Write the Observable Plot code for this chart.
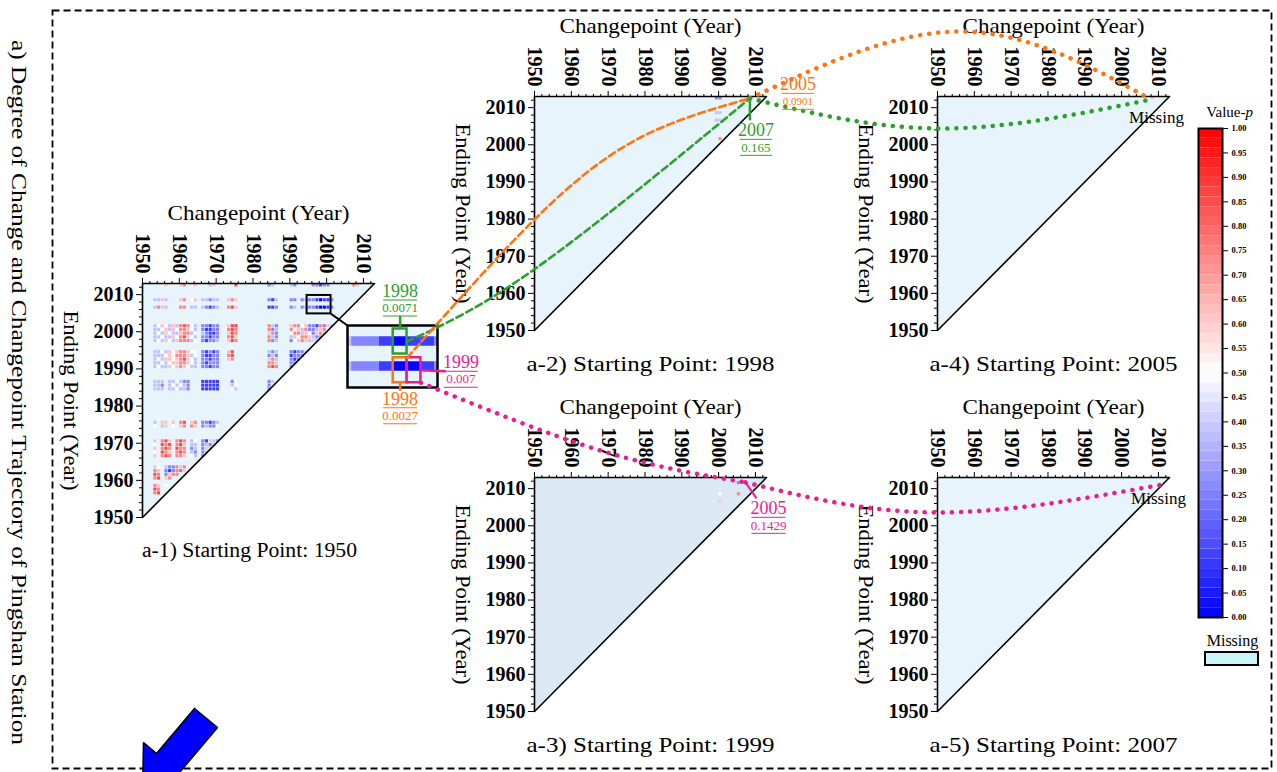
<!DOCTYPE html>
<html><head><meta charset="utf-8">
<script src="https://cdn.jsdelivr.net/npm/d3@7"></script>
<script src="https://cdn.jsdelivr.net/npm/@observablehq/plot@0.6"></script>
<style>
html,body{margin:0;padding:0;background:#fff;}
#wrap{position:relative;width:1277px;height:772px;overflow:hidden;background:#fff;}
</style></head><body><div id="wrap"></div>
<script>
// ---------------- DATA ----------------
const TITLE = "a) Degree of Change and Changepoint Trajectory of Pingshan Station";
const X_TITLE = "Changepoint (Year)";
const Y_TITLE = "Ending Point (Year)";
const STARTS = [1950, 1998, 1999, 2005, 2007];
const CAPTIONS = ["a-1) Starting Point: 1950", "a-2) Starting Point: 1998", "a-3) Starting Point: 1999", "a-4) Starting Point: 2005", "a-5) Starting Point: 2007"];
const YEAR_DOMAIN = [1950, 2013];
const YEAR_TICKS = [1950, 1960, 1970, 1980, 1990, 2000, 2010];
const MINOR_TICKS = [1952, 1954, 1956, 1958, 1962, 1964, 1966, 1968, 1972, 1974, 1976, 1978, 1982, 1984, 1986, 1988, 1992, 1994, 1996, 1998, 2002, 2004, 2006, 2008, 2012];
const CB_TICKS = [0, 0.05, 0.1, 0.15, 0.2, 0.25, 0.3, 0.35, 0.4, 0.45, 0.5, 0.55, 0.6, 0.65, 0.7, 0.75, 0.8, 0.85, 0.9, 0.95, 1];
const CB_TITLE = ["Value-", "p"];
const MISSING_LABEL = "Missing";
// p-value levels used to encode the cells
const P_LEVELS = {X: 0.006, B: 0.12, b: 0.26, l: 0.38, w: 0.5, p: 0.62, r: 0.74, R: 0.86};
// rows: ending year, first changepoint year, one code per changepoint year ('.' = missing)
const A1_ROWS = [
  {end: 2012, from: 1953, codes: "...p...pr..p...lp.....R........bl....lb....bbBbb......rp"},
  {end: 2008, from: 1953, codes: "llpl...pr.wp.llbll..prp........bBl...bb.blbbBXBBb"},
  {end: 2006, from: 1953, codes: "lrpl...rr.ll.lbBbl..rRp........BBb...bl.blbbBXXBb"},
  {end: 2001, from: 1953, codes: "lwpwlplrRrwl.bbBbb..pRR........rlb...prrwpbbBrbpl"},
  {end: 2000, from: 1953, codes: "llwplpwrrpwl.bBBbb..rRr........rbl...rwplrbblprw"},
  {end: 1999, from: 1953, codes: "lwlpwllprrlw.lbBBb..pRr........prb...wrrlpwbprl"},
  {end: 1998, from: 1953, codes: "llwllpwrRpwl.bbBbb..rRp........rlb...lpwrrplbr"},
  {end: 1997, from: 1953, codes: "lwlpwlprrrlw.bBbbl..pRr........rbl...bwprplpl"},
  {end: 1994, from: 1953, codes: "llwlpwprrpww.bBbBb..pR.........lbl...bBbbl"},
  {end: 1993, from: 1953, codes: "lllwpwrrrplw.bBBbb..rR.........blb...Bbbb"},
  {end: 1992, from: 1953, codes: "lwlppwprRpwl.bbBbb..pr.........prl...bBb"},
  {end: 1991, from: 1953, codes: "llwlwpprrpwl.bBbbb.............rrp...bb"},
  {end: 1990, from: 1953, codes: "lwllpwprpwll.bbBbb.............rRr...b"},
  {end: 1986, from: 1953, codes: "lll.llwlbb...BBBBB...bw........bl"},
  {end: 1985, from: 1953, codes: "llb.lwlwlb...BBBBB...lw........b"},
  {end: 1984, from: 1953, codes: "lll.llwllb...BBBBB...wl........b"},
  {end: 1975, from: 1953, codes: "l.pp.p.rR.pr.bbBbl"},
  {end: 1974, from: 1953, codes: "w.lp.w.pr.rp.blbbw"},
  {end: 1970, from: 1953, codes: "p.rRp.rRr.lw.bBplb"},
  {end: 1969, from: 1953, codes: "w.RrR.rRp.ll.blbp"},
  {end: 1968, from: 1953, codes: "p.rRr.Rrr.bl.bpl"},
  {end: 1967, from: 1953, codes: "w.Rrp.rRr.lb.bl"},
  {end: 1966, from: 1953, codes: "p.rRr.rrp.wl.b"},
  {end: 1963, from: 1953, codes: "pw.lbbrpr"},
  {end: 1962, from: 1953, codes: "rp.bBbrbp"},
  {end: 1961, from: 1953, codes: "Rr.bprr"},
  {end: 1960, from: 1953, codes: "rR.pr"},
  {end: 1958, from: 1953, codes: "rp.w"},
  {end: 1957, from: 1953, codes: "Rr"},
  {end: 1956, from: 1953, codes: "rR"}
];
const A2_ROWS = [
  {end: 2012, from: 1999, codes: "bb.......b"},
  {end: 2008, from: 1999, codes: "ll"},
  {end: 2006, from: 1999, codes: "ll"},
  {end: 2001, from: 2000, codes: "r"}
];
const A3_ROWS = [
  {end: 2011, from: 2005, codes: "b.l"},
  {end: 2008, from: 2000, codes: "w....r"},
  {end: 2006, from: 2000, codes: "p"}
];
const A4_ROWS = [
  {end: 2012, from: 2008, codes: "p"}
];
const A5_ROWS = [];
const PANEL_ROWS = [A1_ROWS, A2_ROWS, A3_ROWS, A4_ROWS, A5_ROWS];
// zoomed region of a-1 (changepoint years, ending years)
const ZOOM_X = [1994.7, 2001.2];
const ZOOM_Y = [2004.82, 2009.78];
// highlighted cells inside the zoom
const HL_YEARS = [1998, 1998, 1999];
const HL_ROWS = [[2007.5, 2009.5], [2005.2, 2007.2], [2005.2, 2007.2]];
const HL_TEXT = [["1998", "0.0071"], ["1998", "0.0027"], ["1999", "0.007"]];
// trajectory labels
const TRAJ_TEXT = {orange: ["2005", "0.0901"], green: ["2007", "0.165"], pink: ["2005", "0.1429"]};

// ---------------- STYLE / LAYOUT ----------------
const W = 1277, H = 772;
const SERIF = "'Liberation Serif','Times New Roman',serif";
const GREEN = "#2ca02c", ORANGE = "#ff7410", PINK = "#eb1c8e";
const TRI_FILL = "#e8f4fb", TRI_FILL_A3 = "#dae9f3", MISSING_FILL = "#c8f5f8";
const COLOR = {type: "linear", domain: [0, 0.5, 1], range: ["#0000ff", "#ffffff", "#ff0000"], interpolate: "rgb"};
const ML = 100, MT = 110, MR = 25, MB = 50, FW = 232, FH = 234;
const FRAMES = [[142, 283], [534, 96], [534, 477], [937, 96], [937, 477]];
const TEXT_LENGTHS = new Map([
  [TITLE, 705], [X_TITLE, 182], [Y_TITLE, 180],
  [CAPTIONS[0], 215], [CAPTIONS[1], 248], [CAPTIONS[2], 248], [CAPTIONS[3], 248], [CAPTIONS[4], 248]
]);

const wrap = document.getElementById("wrap");
function place(el, left, top) {
  el.style.position = "absolute";
  el.style.left = left + "px";
  el.style.top = top + "px";
  el.style.maxWidth = "none";
  wrap.appendChild(el);
  return el;
}
function expand(rows) {
  const out = [];
  for (const r of rows) {
    [...r.codes].forEach((ch, i) => {
      if (ch !== ".") out.push({c: r.from + i, e: r.end, p: P_LEVELS[ch]});
    });
  }
  return out;
}
const A1_CELLS = expand(A1_ROWS);

function makePanel(k) {
  const cells = k === 0 ? A1_CELLS : expand(PANEL_ROWS[k]);
  const [lo, hi] = YEAR_DOMAIN;
  const marks = [
    Plot.areaY([lo, hi], {x: d => d, y1: d => d, y2: () => hi, fill: k === 2 ? TRI_FILL_A3 : TRI_FILL}),
    Plot.rect(cells, {x1: d => d.c, x2: d => d.c + 1, y1: d => d.e, y2: d => d.e + 1, fill: "p", inset: 0.3}),
    Plot.line([lo, hi], {x: d => d, y: d => d, stroke: "black", strokeWidth: 1.6}),
    Plot.ruleY([hi], {stroke: "black", strokeWidth: 1.6}),
    Plot.ruleX([lo], {stroke: "black", strokeWidth: 1.6}),
    Plot.axisX({anchor: "top", ticks: MINOR_TICKS, tickSize: 3, tickFormat: () => "", label: null}),
    Plot.axisX({anchor: "top", ticks: YEAR_TICKS, tickSize: 6, tickPadding: 4, tickRotate: 90, textAnchor: "end", lineAnchor: "middle",
      tickFormat: d => String(d), fontSize: 20, fontWeight: "bold", label: null}),
    Plot.axisY({anchor: "left", ticks: MINOR_TICKS, tickSize: 3, tickFormat: () => "", label: null}),
    Plot.axisY({anchor: "left", ticks: YEAR_TICKS, tickSize: 6, tickPadding: 3, tickFormat: d => String(d), fontSize: 20, fontWeight: "bold", label: null}),
    Plot.text([X_TITLE], {frameAnchor: "top", dy: -70, textAnchor: "middle", lineAnchor: "middle", fontSize: 21, fill: "black"}),
    Plot.text([Y_TITLE], {frameAnchor: "left", dx: -72, rotate: 90, textAnchor: "middle", lineAnchor: "middle", fontSize: 21, fill: "black"}),
    Plot.text([CAPTIONS[k]], {frameAnchor: "bottom", dy: 33, dx: k === 0 ? -9 : 0, textAnchor: "middle", lineAnchor: "middle", fontSize: k === 0 ? 20 : 22, fill: "black"})
  ];
  if (k === 0) {
    marks.push(Plot.rect([0], {x1: () => ZOOM_X[0], x2: () => ZOOM_X[1], y1: () => ZOOM_Y[0], y2: () => ZOOM_Y[1], fill: "none", stroke: "black", strokeWidth: 2}));
  }
  return Plot.plot({
    width: ML + FW + MR, height: MT + FH + MB,
    marginLeft: ML, marginTop: MT, marginRight: MR, marginBottom: MB,
    x: {domain: YEAR_DOMAIN}, y: {domain: YEAR_DOMAIN},
    color: COLOR,
    style: {fontFamily: SERIF, background: "transparent", overflow: "visible", color: "black"},
    marks
  });
}

const panels = PANEL_ROWS.map((rows, k) => {
  const plot = makePanel(k);
  const left = FRAMES[k][0] - ML, top = FRAMES[k][1] - MT;
  place(plot, left, top);
  return {plot, left, top};
});
function at(pn, xv, yv) {
  return [pn.left + pn.plot.scale("x").apply(xv), pn.top + pn.plot.scale("y").apply(yv)];
}

// ---------------- INSET ----------------
const INSET_POS = [347, 325], INSET_SIZE = [90, 62];
const HL_COLORS = [GREEN, ORANGE, PINK];
const hl = HL_YEARS.map((c, i) => ({c, y0: HL_ROWS[i][0], y1: HL_ROWS[i][1], color: HL_COLORS[i]}));
const inset = Plot.plot({
  width: INSET_SIZE[0], height: INSET_SIZE[1], margin: 0,
  x: {domain: ZOOM_X, axis: null}, y: {domain: ZOOM_Y, axis: null},
  color: COLOR,
  style: {background: "transparent", overflow: "visible"},
  marks: [
    Plot.frame({fill: TRI_FILL}),
    Plot.rect(A1_CELLS, {x1: d => d.c, x2: d => d.c + 1, y1: d => d.e, y2: d => d.e + 1, fill: "p", insetTop: 1.5, insetBottom: 1.5, clip: true}),
    Plot.rect(hl, {x1: d => d.c, x2: d => d.c + 1, y1: d => d.y0, y2: d => d.y1, fill: "none", stroke: d => d.color, strokeWidth: 2.5}),
    Plot.frame({stroke: "black", strokeWidth: 2.5})
  ]
});
place(inset, INSET_POS[0], INSET_POS[1]);
const inPt = (xv, yv) => [INSET_POS[0] + inset.scale("x").apply(xv), INSET_POS[1] + inset.scale("y").apply(yv)];

// ---------------- COLORBAR ----------------
const CB_POS = [1190, 100];
const CB_STEP = 0.02;
const CB_BANDS = d3.range(0, 1, CB_STEP);
const cb = Plot.plot({
  width: 87, height: 580, marginLeft: 8, marginRight: 55, marginTop: 28, marginBottom: 63,
  x: {domain: [0, 1], axis: null}, y: {domain: [0, 1]},
  color: COLOR,
  style: {fontFamily: SERIF, background: "transparent", overflow: "visible"},
  marks: [
    Plot.rect(CB_BANDS, {x1: () => 0, x2: () => 1, y1: d => d, y2: d => d + CB_STEP, fill: d => d + CB_STEP / 2}),
    Plot.frame({stroke: "black", strokeWidth: 2}),
    Plot.axisY({anchor: "right", ticks: CB_TICKS, tickSize: 5, tickPadding: 4, tickFormat: d3.format(".2f"), fontSize: 8.5, fontWeight: "bold", label: null})
  ]
});
place(cb, CB_POS[0], CB_POS[1]);
const cbPt = (xv, yv) => [CB_POS[0] + cb.scale("x").apply(xv), CB_POS[1] + cb.scale("y").apply(yv)];

// ---------------- OVERLAY ----------------
const a2hub = at(panels[1], 2008.5, 2012.5);
const a4hub = at(panels[3], 2008, 2012.2);
const a3hub = at(panels[2], 2007.3, 2011.7);
const a5hub = at(panels[4], 2010.5, 2011);
const zoomCorner = at(panels[0], ZOOM_X[1], ZOOM_Y[0]);
const insetCorner = inPt(ZOOM_X[0], ZOOM_Y[1]);

const DASH = {strokeDasharray: "7 4", strokeWidth: 2.6};
const DOT = {strokeDasharray: "0.1 9", strokeWidth: 4.5, strokeLinecap: "round"};
function curve(points, color, style) {
  return Plot.line(points, {x: d => d[0], y: d => d[1], curve: "natural", stroke: color, fill: "none", ...style});
}
function seg(p, q, color, width = 2) {
  return Plot.link([0], {x1: () => p[0], y1: () => p[1], x2: () => q[0], y2: () => q[1], stroke: color, strokeWidth: width});
}
function frac(cx, cy, txt, color, ySize = 18, vSize = 13, half = 17) {
  return [
    Plot.text([txt[0]], {x: () => cx, y: () => cy, fill: color, fontSize: ySize}),
    seg([cx - half, cy + 9], [cx + half, cy + 9], color, 1),
    Plot.text([txt[1]], {x: () => cx, y: () => cy + 17, fill: color, fontSize: vSize}),
    seg([cx - half, cy + 25], [cx + half, cy + 25], color, 1)
  ];
}
const gTop = inPt(HL_YEARS[0] + 0.5, HL_ROWS[0][1]);
const oBot = inPt(HL_YEARS[1] + 0.5, HL_ROWS[1][0]);
const pRight = inPt(HL_YEARS[2] + 1, (HL_ROWS[2][0] + HL_ROWS[2][1]) / 2);
const gStart = inPt(HL_YEARS[0] + 1, 2008.5);
const oStart = inPt(HL_YEARS[1] + 1, HL_ROWS[1][1]);
const pStart = inPt(HL_YEARS[2] + 1, HL_ROWS[2][0]);

const a4corner = at(panels[3], YEAR_DOMAIN[1], YEAR_DOMAIN[1]);
const a5corner = at(panels[4], YEAR_DOMAIN[1], YEAR_DOMAIN[1]);
const cbTop = cbPt(0.5, 1), cbBot = cbPt(0.5, 0);
const ARROW_SHAPE = [[194, 708], [217, 727], [179, 772], [192, 783], [142, 794], [143, 742], [156, 753], [194, 708]];

const overlay = Plot.plot({
  width: W, height: H, margin: 0,
  x: {domain: [0, W], range: [0, W], axis: null},
  y: {domain: [0, H], range: [0, H], axis: null},
  style: {fontFamily: SERIF, background: "transparent", overflow: "visible", color: "black"},
  marks: [
    Plot.frame({insetLeft: 52, insetTop: 10, insetRight: 6, insetBottom: 4, stroke: "black", strokeDasharray: "7 4", strokeWidth: 1.8}),
    Plot.text([TITLE], {frameAnchor: "left", dx: 18, dy: 6, rotate: 90, textAnchor: "middle", lineAnchor: "middle", fontSize: 21}),
    seg(zoomCorner, insetCorner, "black", 2),
    // highlight connectors
    seg(gTop, [gTop[0], gTop[1] - 13], GREEN, 2.5),
    seg(oBot, [oBot[0], oBot[1] + 8], ORANGE, 2.5),
    seg(pRight, [pRight[0] + 25, pRight[1] + 1], PINK, 2.5),
    ...frac(gTop[0], gTop[1] - 38, HL_TEXT[0], GREEN),
    ...frac(oBot[0], oBot[1] + 16, HL_TEXT[1], ORANGE),
    ...frac(pRight[0] + 40, pRight[1] - 8, HL_TEXT[2], PINK),
    // trajectories
    curve([gStart, [535, 268], a2hub], GREEN, DASH),
    curve([oStart, [535, 218], [640, 137], a2hub], ORANGE, DASH),
    curve([a2hub, [960, 31], a4hub], ORANGE, DOT),
    curve([a2hub, [940, 128], a4hub], GREEN, DOT),
    curve([pStart, [600, 450], a3hub], PINK, DOT),
    curve([a3hub, [935, 512], a5hub], PINK, DOT),
    // trajectory labels
    ...frac(a2hub[0] + 48, a2hub[1] - 14, TRAJ_TEXT.orange, ORANGE, 18, 11, 16),
    seg(a2hub, [a2hub[0], a2hub[1] + 22], GREEN, 2.5),
    ...frac(a2hub[0] + 6, a2hub[1] + 32, TRAJ_TEXT.green, GREEN, 18, 13, 16),
    seg(a3hub, [a3hub[0] + 11, a3hub[1] + 16], PINK, 2),
    ...frac(a3hub[0] + 23, a3hub[1] + 26, TRAJ_TEXT.pink, PINK, 18, 13, 17),
    // missing notes
    Plot.text([MISSING_LABEL], {x: () => a4corner[0] - 13, y: () => a4corner[1] + 21, fontSize: 17}),
    Plot.text([MISSING_LABEL], {x: () => a5corner[0] - 11, y: () => a5corner[1] + 21, fontSize: 17}),
    // colorbar legend extras
    Plot.text([CB_TITLE[0]], {x: () => cbTop[0] + 35, y: () => cbTop[1] - 16, textAnchor: "end", fontSize: 15}),
    Plot.text([CB_TITLE[1]], {x: () => cbTop[0] + 35, y: () => cbTop[1] - 16, textAnchor: "start", fontSize: 15, fontStyle: "italic"}),
    Plot.text([MISSING_LABEL], {x: () => cbBot[0] + 22, y: () => cbBot[1] + 23, fontSize: 16}),
    Plot.rect([0], {x1: () => cbBot[0] - 5, x2: () => cbBot[0] + 48, y1: () => cbBot[1] + 35, y2: () => cbBot[1] + 48, fill: MISSING_FILL, stroke: "black", strokeWidth: 2}),
    // blue arrow
    Plot.line(ARROW_SHAPE, {x: d => d[0], y: d => d[1], fill: "#0000ff", stroke: "black", strokeWidth: 1.5, strokeLinejoin: "miter"})
  ]
});
overlay.style.pointerEvents = "none";
place(overlay, 0, 0);

// stretch the wide serif texts to the lengths measured on the reference
for (const t of wrap.querySelectorAll("text")) {
  const len = TEXT_LENGTHS.get(t.textContent);
  if (len) {
    t.setAttribute("textLength", len);
    t.setAttribute("lengthAdjust", "spacingAndGlyphs");
  }
}
</script></body></html>
